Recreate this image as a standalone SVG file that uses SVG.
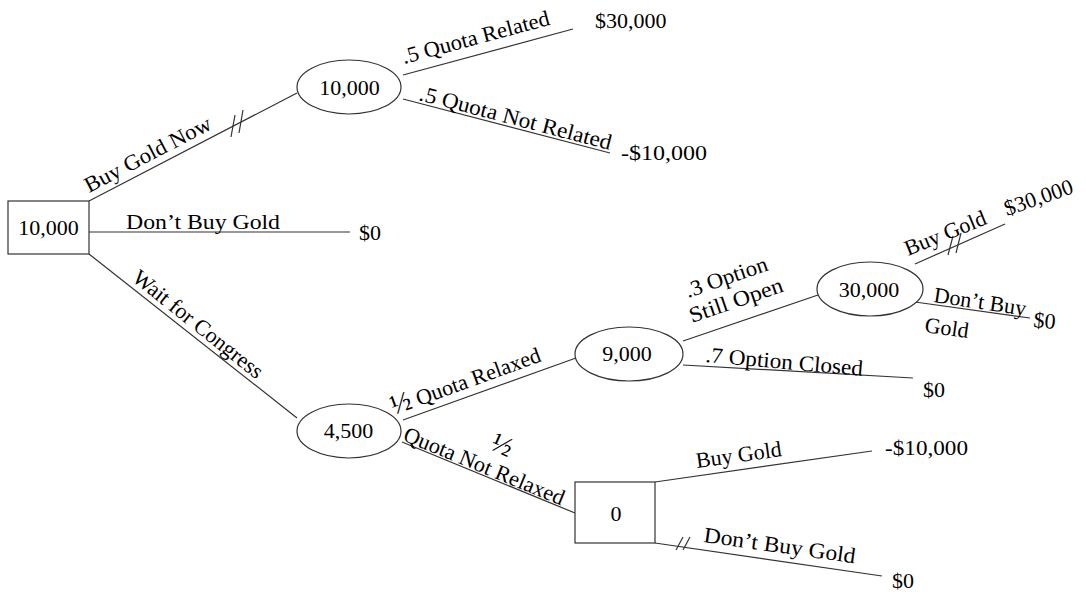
<svg xmlns="http://www.w3.org/2000/svg" width="1086" height="602" viewBox="0 0 1086 602">
  <style>
    .node { fill: #ffffff; stroke: #333333; stroke-width: 1.2; }
    .edge { stroke: #333333; stroke-width: 1.2; fill: none; }
    .tick { stroke: #333333; stroke-width: 1.2; }
    text { font-family: "Liberation Serif", "Times New Roman", serif; font-size: 22px; fill: #000000; }
    .val { text-anchor: middle; }
    .half { font-size: 28px; }
  </style>
  <rect width="1086" height="602" fill="#ffffff"/>

  <!-- connectors -->
  <g id="connectors">
    <line class="edge" x1="89" y1="201" x2="297" y2="93"/>
    <line class="tick" x1="231" y1="137" x2="235" y2="115"/>
    <line class="tick" x1="239" y1="133" x2="243" y2="110"/>
    <line class="edge" x1="89" y1="232" x2="350" y2="232"/>
    <line class="edge" x1="89" y1="254" x2="297" y2="418"/>
    <line class="edge" x1="403" y1="75" x2="573" y2="29"/>
    <line class="edge" x1="403" y1="99" x2="610" y2="153"/>
    <line class="edge" x1="403" y1="420" x2="576" y2="358"/>
    <line class="edge" x1="402" y1="442" x2="575" y2="513"/>
    <line class="edge" x1="683" y1="341" x2="818" y2="295"/>
    <line class="edge" x1="683" y1="365" x2="913" y2="378"/>
    <line class="edge" x1="915" y1="264" x2="1005" y2="224"/>
    <line class="tick" x1="948" y1="255" x2="953" y2="236"/>
    <line class="tick" x1="956" y1="253" x2="961" y2="233"/>
    <line class="edge" x1="915" y1="302" x2="1030" y2="318"/>
    <line class="edge" x1="655" y1="482" x2="872" y2="451"/>
    <line class="edge" x1="655" y1="543" x2="882" y2="576"/>
    <line class="tick" x1="676" y1="550" x2="683" y2="537"/>
    <line class="tick" x1="683" y1="550" x2="690" y2="537"/>
  </g>

  <!-- branch labels and payoffs -->
  <g id="labels">
    <text transform="translate(89,193) rotate(-27.5)" textLength="140" lengthAdjust="spacingAndGlyphs">Buy Gold Now</text>
    <text x="126" y="229" textLength="154" lengthAdjust="spacingAndGlyphs">Don’t Buy Gold</text>
    <text x="359" y="240">$0</text>
    <text transform="translate(131,280) rotate(38.5)" textLength="160" lengthAdjust="spacingAndGlyphs">Wait for Congress</text>

    <text transform="translate(404,64) rotate(-15)" textLength="152" lengthAdjust="spacingAndGlyphs">.5 Quota Related</text>
    <text x="595" y="28">$30,000</text>
    <text transform="translate(418,100) rotate(14.6)" textLength="198" lengthAdjust="spacingAndGlyphs">.5 Quota Not Related</text>
    <text x="621" y="160" textLength="86" lengthAdjust="spacingAndGlyphs">-$10,000</text>

    <text transform="translate(394,415) rotate(-20)"><tspan class="half">½</tspan> Quota Relaxed</text>
    <text transform="translate(402,440) rotate(22.4)" textLength="172" lengthAdjust="spacingAndGlyphs">Quota Not Relaxed</text>
    <text class="half" transform="translate(489,449) rotate(24)">½</text>

    <text transform="translate(688,298) rotate(-19)" textLength="86" lengthAdjust="spacingAndGlyphs">.3 Option</text>
    <text transform="translate(692,323) rotate(-19)" textLength="98" lengthAdjust="spacingAndGlyphs">Still Open</text>
    <text transform="translate(705,362) rotate(5)" textLength="158" lengthAdjust="spacingAndGlyphs">.7 Option Closed</text>
    <text x="923" y="397">$0</text>

    <text transform="translate(908,256) rotate(-22)">Buy Gold</text>
    <text transform="translate(1007,216) rotate(-19)">$30,000</text>
    <text transform="translate(933,302) rotate(8.5)">Don’t Buy</text>
    <text transform="translate(924,332) rotate(8)">Gold</text>
    <text transform="translate(1033,327) rotate(5)">$0</text>

    <text transform="translate(697,468) rotate(-8)">Buy Gold</text>
    <text x="885" y="455" textLength="83" lengthAdjust="spacingAndGlyphs">-$10,000</text>
    <text transform="translate(703,542) rotate(8)" textLength="153" lengthAdjust="spacingAndGlyphs">Don’t Buy Gold</text>
    <text x="892" y="588">$0</text>
  </g>

  <!-- decision node: root -->
  <g id="root">
    <rect class="node" x="8" y="201" width="81" height="53"/>
    <text class="val" x="48.5" y="235">10,000</text>
  </g>

  <!-- chance node: buy now -->
  <g id="buy-now">
    <ellipse class="node" cx="349" cy="87" rx="52" ry="27"/>
    <text class="val" x="349.5" y="95">10,000</text>
  </g>

  <!-- chance node: wait for congress -->
  <g id="wait">
    <ellipse class="node" cx="349" cy="431" rx="52" ry="27"/>
    <text class="val" x="348.5" y="438">4,500</text>
  </g>

  <!-- chance node: quota relaxed -->
  <g id="relaxed">
    <ellipse class="node" cx="629" cy="354" rx="54" ry="27"/>
    <text class="val" x="627" y="361">9,000</text>
  </g>

  <!-- chance node: option still open -->
  <g id="open">
    <ellipse class="node" cx="870" cy="289" rx="53" ry="27"/>
    <text class="val" x="869" y="297">30,000</text>
  </g>

  <!-- decision node: quota not relaxed -->
  <g id="not-relaxed">
    <rect class="node" x="575" y="482" width="80" height="61"/>
    <text class="val" x="616" y="521">0</text>
  </g>
</svg>
